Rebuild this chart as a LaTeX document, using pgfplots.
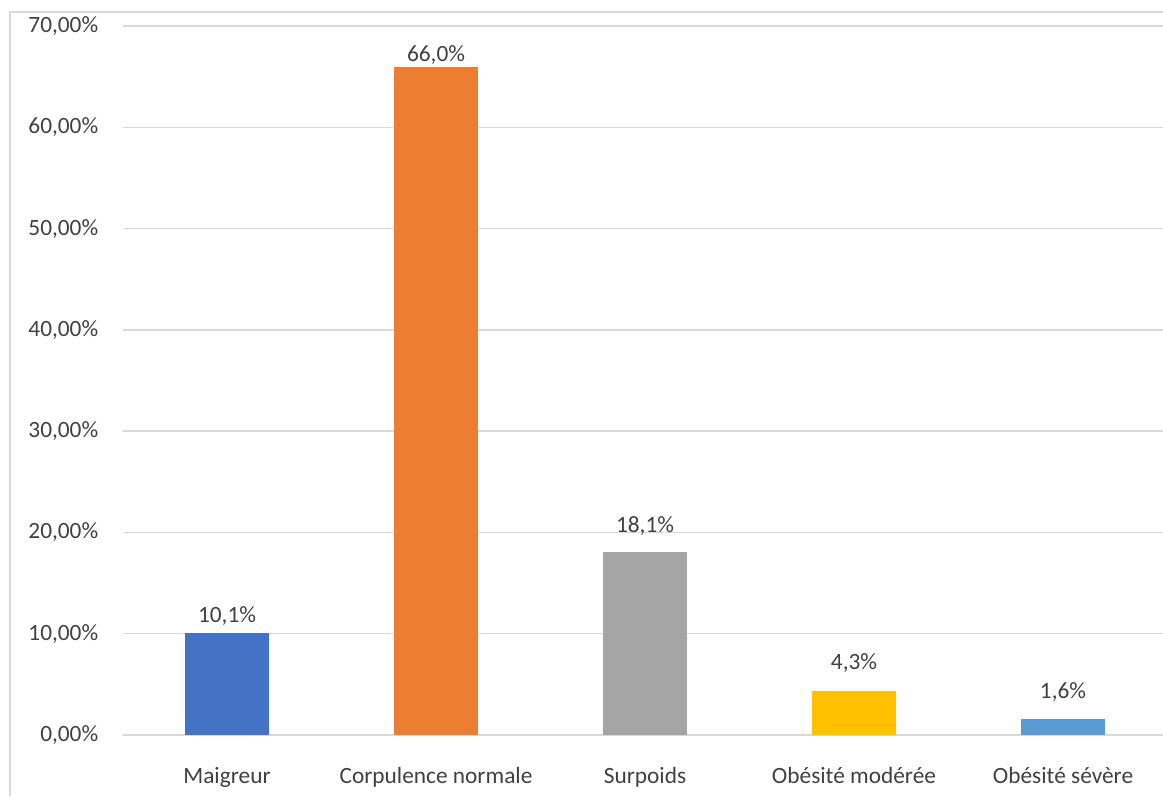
\documentclass[border=0pt]{standalone}
\usepackage{fontspec}
\setmainfont{Carlito}
\usepackage{pgfplots}
\pgfplotsset{compat=1.18}
\definecolor{cA}{HTML}{4472C4}
\definecolor{cB}{HTML}{ED7D31}
\definecolor{cC}{HTML}{A5A5A5}
\definecolor{cD}{HTML}{FFC000}
\definecolor{cE}{HTML}{5B9BD5}
\definecolor{gridc}{HTML}{D9D9D9}
\definecolor{txt}{HTML}{404040}
\begin{document}
\begin{tikzpicture}
\useasboundingbox (0pt,0pt) rectangle (872.25pt,597pt);
\draw[color=gridc, line width=1.5pt] (7.5pt,0pt) -- (7.5pt,588pt) -- (872.25pt,588pt);
\begin{axis}[
  at={(91.875pt,45.75pt)}, anchor=south west,
  scale only axis, width=783.75pt, height=531.75pt,
  xmin=-0.5, xmax=4.5, ymin=0, ymax=70,
  ybar, bar width=63pt, bar shift=0pt,
  xtick={0,1,2,3,4},
  xticklabels={Maigreur, Corpulence normale, Surpoids, Obésité modérée, Obésité sévère},
  ytick={0,10,...,70},
  yticklabel={\pgfmathprintnumber[fixed,fixed zerofill,precision=2,use comma]{\tick}\%},
  /pgf/number format/assume math mode=true,
  axis line style={draw=none}, tick style={draw=none},
  ymajorgrids, grid style={gridc, line width=1pt},
  tick label style={font=\fontsize{17.5}{20}\selectfont, text=txt},
  xticklabel style={anchor=base, yshift=-32.25pt},
  yticklabel style={anchor=east, inner sep=0pt, xshift=-18pt},
  nodes near coords={\pgfmathprintnumber[fixed,fixed zerofill,precision=1,use comma]{\pgfplotspointmeta}\%},
  nodes near coords style={font=\fontsize{17.5}{20}\selectfont, text=txt, anchor=base, inner sep=0pt},
  clip=false,
]
\addplot[fill=cA, draw=none, nodes near coords style={yshift=7.5pt}] coordinates {(0,10.1)};
\addplot[fill=cB, draw=none, nodes near coords style={yshift=3.75pt}] coordinates {(1,66.0)};
\addplot[fill=cC, draw=none, nodes near coords style={yshift=14.25pt}] coordinates {(2,18.1)};
\addplot[fill=cD, draw=none, nodes near coords style={yshift=16.5pt}] coordinates {(3,4.3)};
\addplot[fill=cE, draw=none, nodes near coords style={yshift=15pt}] coordinates {(4,1.6)};
\end{axis}
\end{tikzpicture}
\end{document}
